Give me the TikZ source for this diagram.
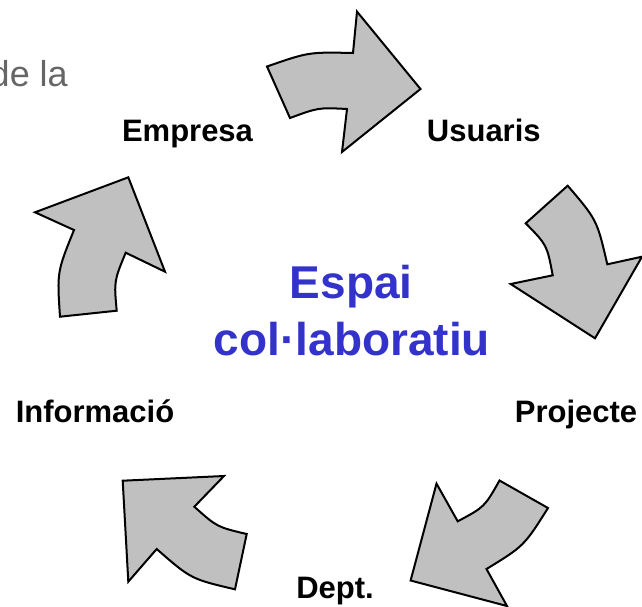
\documentclass[tikz,border=0pt]{standalone}
\usepackage{fontspec}
\setmainfont{Liberation Sans}
\usepackage{xcolor}
\definecolor{titleblue}{HTML}{3333CC}
\definecolor{arrowgray}{HTML}{C0C0C0}
\definecolor{textgray}{HTML}{666666}

\begin{document}
\begin{tikzpicture}[x=10pt,y=10pt]
\tikzstyle{every node}+=[inner sep=0pt]
\tikzstyle{cyclearrow}=[draw=black, fill=arrowgray, line width=2pt, line join=miter]
\tikzstyle{stage}=[anchor=base, font=\fontsize{31}{37}\selectfont\bfseries]
\tikzstyle{centre}=[anchor=base, text=titleblue, font=\fontsize{46}{55}\selectfont\bfseries]
\useasboundingbox (0,0) rectangle (64.2,-60.6);
\draw (6.8,-8.6) node [anchor=base east, text=textgray, font=\fontsize{36}{43}\selectfont] (dela) {de la};
\draw [cyclearrow] (26.7,-6.65) .. controls (30.87,-5.2) .. (35.3,-5.3) -- (35.7,-1.16) -- (42.05,-8.9) -- (34.2,-15.2) -- (34.7,-10.9) .. controls (31.85,-10.75) .. (29.0,-11.8) -- cycle;
\draw [cyclearrow] (56.77,-18.57) .. controls (59.7,-22.0) .. (60.73,-26.43) -- (64.2,-25.67) -- (59.5,-33.83) -- (51.07,-28.4) -- (55.27,-27.53) .. controls (54.7,-24.5) .. (52.57,-22.33) -- cycle;
\draw [cyclearrow] (54.8,-50.8) .. controls (52.4,-54.6) .. (48.65,-56.9) -- (50.7,-60.6) -- (41.06,-58.05) -- (43.65,-48.36) -- (45.77,-52.13) .. controls (48.45,-50.7) .. (49.95,-48.05) -- cycle;
\draw [cyclearrow] (23.5,-58.93) .. controls (19.1,-57.9) .. (15.67,-54.9) -- (12.83,-58.17) -- (12.27,-48.07) -- (22.4,-47.6) -- (19.43,-50.67) .. controls (21.7,-52.7) .. (24.67,-53.4) -- cycle;
\draw [cyclearrow] (6.0,-31.67) -- (11.67,-31.07) .. controls (11.4,-28.1) .. (12.57,-25.27) -- (16.5,-27.17) -- (12.83,-17.73) -- (3.5,-21.23) -- (7.4,-23.0) .. controls (5.7,-27.2) .. cycle;
\draw (18.75,-14.1) node [stage] (empresa) {Empresa};
\draw (48.38,-14.1) node [stage] (usuaris) {Usuaris};
\draw (57.6,-42.2) node [stage] (projecte) {Projecte};
\draw (33.5,-59.8) node [stage] (dept) {Dept.};
\draw (9.5,-42.2) node [stage] (informacio) {Informació};
\draw (35.13,-29.83) node [centre] (espai) {Espai};
\draw (35.2,-35.5) node [centre] (colab) {col·laboratiu};
\end{tikzpicture}
\end{document}
